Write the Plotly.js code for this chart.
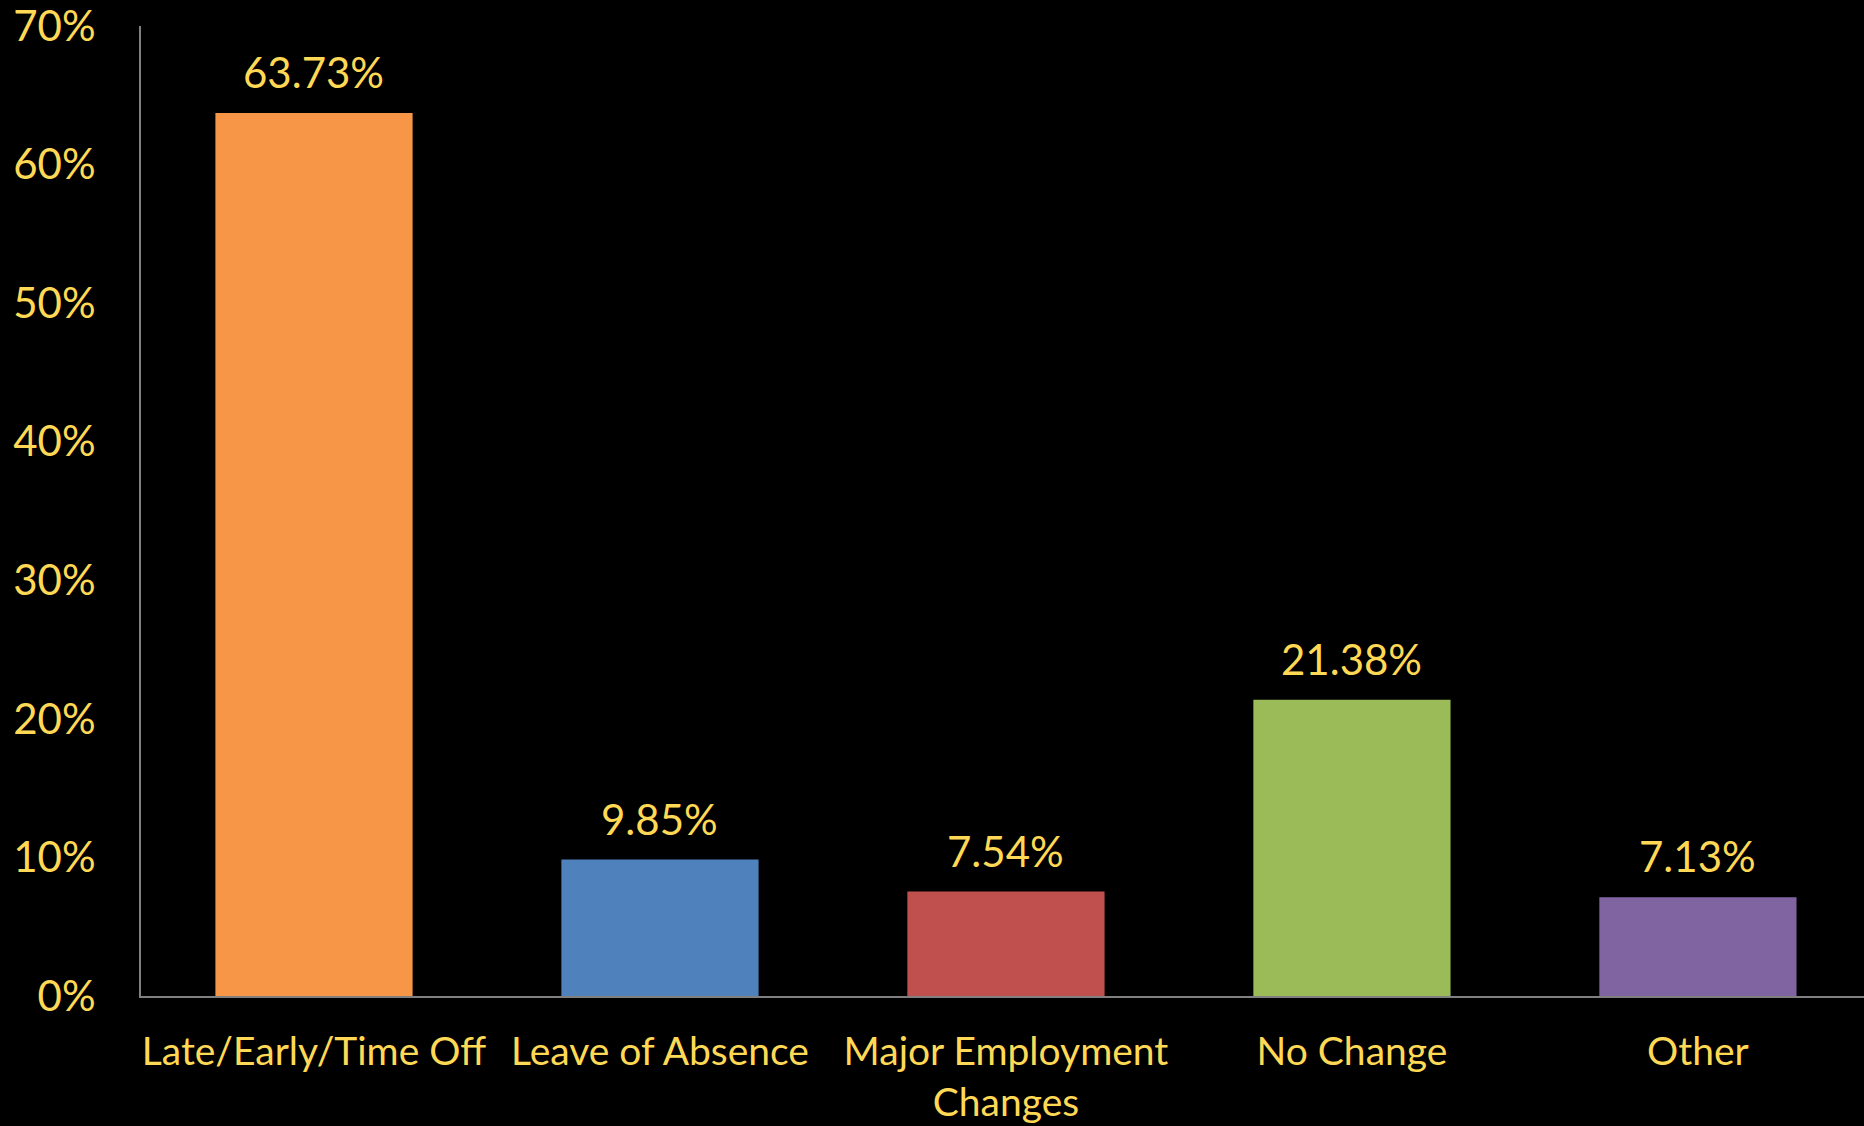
<!DOCTYPE html>
<html>
<head>
<meta charset="utf-8">
<script src="https://cdn.plot.ly/plotly-3.0.1.min.js"></script>
<style>html,body{margin:0;padding:0;background:#000;}#chart{width:1864px;height:1126px;}</style>
</head>
<body>
<div id="chart"></div>
<script>
const categories = ["Late/Early/Time Off", "Leave of Absence", "Major Employment<br>Changes", "No Change", "Other"];
const values = [63.73, 9.85, 7.54, 21.38, 7.13];
const valueLabels = ["63.73%", "9.85%", "7.54%", "21.38%", "7.13%"];
const barColors = ["#F79646", "#4F81BD", "#C0504D", "#9BBB59", "#8064A2"];
const yTickVals = [0, 10, 20, 30, 40, 50, 60, 70];
const yTickText = ["0%", "10%", "20%", "30%", "40%", "50%", "60%", "70%"];

const yellow = "#FFD955";
const fontFamily = "Lato, 'Open Sans', sans-serif";

const annotations = categories.map((c, i) => ({
  x: c,
  y: values[i],
  xref: "x",
  yref: "y",
  text: valueLabels[i],
  showarrow: false,
  yanchor: "bottom",
  yshift: 14,
  font: {color: yellow, size: 42, family: fontFamily}
}));

Plotly.newPlot("chart", [{
  type: "bar",
  x: categories,
  y: values,
  marker: {color: barColors},
  hoverinfo: "none"
}], {
  width: 1864,
  height: 1126,
  paper_bgcolor: "#000",
  plot_bgcolor: "#000",
  margin: {l: 141, r: 0, t: 26, b: 130},
  bargap: 0.43,
  showlegend: false,
  annotations: annotations,
  font: {family: fontFamily, color: yellow, size: 39},
  xaxis: {
    range: [-0.5, 4.48],
    showline: true,
    linecolor: "#808080",
    linewidth: 2,
    ticks: "",
    showgrid: false,
    zeroline: false,
    tickangle: 0,
    ticklabelstandoff: 20,
    tickfont: {color: yellow, size: 39, family: fontFamily}
  },
  yaxis: {
    range: [0, 70],
    tickvals: yTickVals,
    ticktext: yTickText,
    showline: true,
    linecolor: "#808080",
    linewidth: 2,
    ticks: "",
    showgrid: false,
    zeroline: false,
    ticklabelstandoff: 35,
    ticklabeloverflow: "allow",
    tickfont: {color: yellow, size: 42, family: fontFamily}
  }
}, {displayModeBar: false, staticPlot: true});
</script>
</body>
</html>
